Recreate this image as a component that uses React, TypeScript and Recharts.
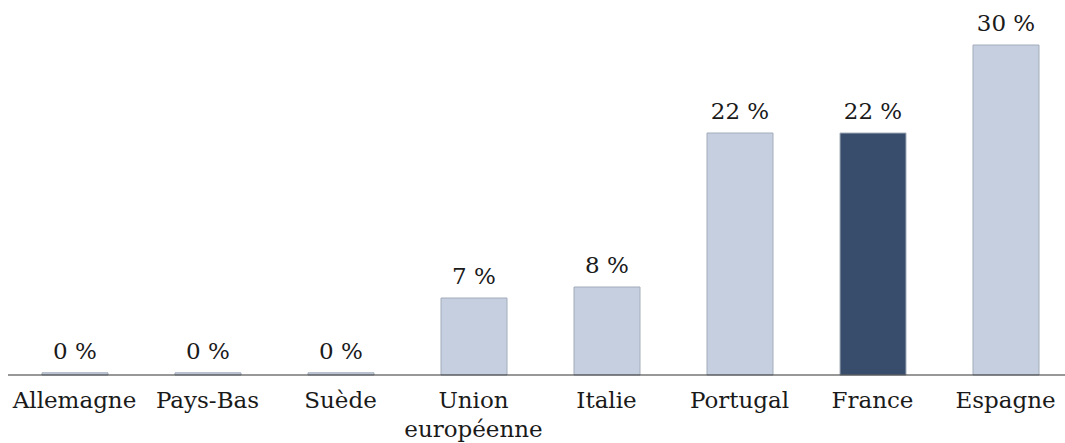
import { Bar, BarChart, Cell, LabelList, XAxis, YAxis } from "recharts";

const countries = [
  "Allemagne",
  "Pays-Bas",
  "Suède",
  "Union européenne",
  "Italie",
  "Portugal",
  "France",
  "Espagne",
];
const shares = [0.2, 0.2, 0.2, 7, 8, 22, 22, 30];
const highlighted = "France";

const data = countries.map((name, i) => ({ name, share: shares[i] }));

const FONT = "'DejaVu Serif', serif";

function CountryTick({ x, y, payload }: { x?: number; y?: number; payload?: { value: string } }) {
  const label = payload?.value ?? "";
  const lines = label === "Union européenne" ? ["Union", "européenne"] : [label];
  return (
    <text x={x} y={y} textAnchor="middle" fontFamily={FONT} fontSize={23} fill="#1a1a1a">
      {lines.map((line, i) => (
        <tspan key={line} x={x} dy={i === 0 ? 25 : 29}>
          {line}
        </tspan>
      ))}
    </text>
  );
}

export default function App() {
  return (
    <div style={{ position: "absolute", left: 0, top: 0, width: 1065, height: 443, overflow: "hidden" }}>
      <div style={{ position: "absolute", left: 8, top: 8 }}>
        <BarChart
          width={1064}
          height={435}
          data={data}
          margin={{ top: 37, right: 0, left: 0, bottom: 0 }}
          barSize={66}
          style={{ overflow: "visible" }}
        >
          <XAxis
            dataKey="name"
            interval={0}
            tickLine={false}
            axisLine={{ stroke: "#333333", strokeWidth: 1.2 }}
            height={68}
            tick={<CountryTick />}
          />
          <YAxis hide domain={[0, 30]} />
          <Bar dataKey="share" stroke="#a3acba" strokeWidth={1} isAnimationActive={false}>
            {data.map((d) => (
              <Cell key={d.name} fill={d.name === highlighted ? "#384c6b" : "#c5cfe0"} />
            ))}
            <LabelList
              dataKey="share"
              position="top"
              offset={14}
              formatter={(v: any) => `${Math.round(Number(v))} %`}
              style={{ fontFamily: FONT, fontSize: 23, fill: "#1a1a1a" }}
            />
          </Bar>
        </BarChart>
      </div>
    </div>
  );
}
